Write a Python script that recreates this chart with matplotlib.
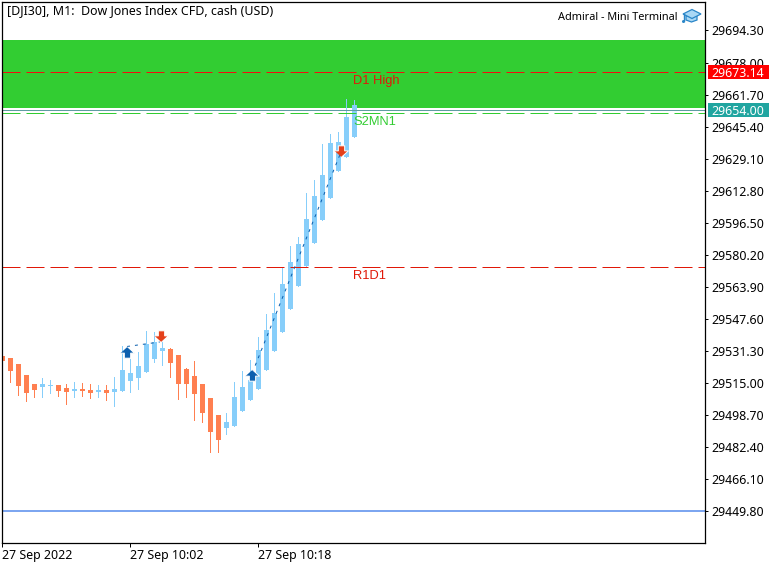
import matplotlib
matplotlib.use("Agg")
import matplotlib.pyplot as plt
from matplotlib.patches import Circle, Polygon, Rectangle

plt.rcParams['font.family'] = ['Noto Sans', 'DejaVu Sans']

# M1 candles, offsets (prices minus 29000)
opens = [528.65, 527.63, 524.58, 518.98, 514.40, 513.03, 513.54, 513.89, 512.37, 510.99,
         511.86, 511.35, 510.48, 511.35, 510.48, 510.99, 516.08, 517.61, 520.66, 527.28,
         531.20, 532.21, 529.16, 522.04, 518.47, 514.40, 507.28, 498.63, 492.16, 493.18,
         500.66, 506.26, 511.86, 521.53, 531.20, 540.87, 552.57, 564.27, 574.45, 586.16,
         597.86, 609.06, 622.80, 629.92, 640.10]
highs = [528.65, 527.63, 524.58, 518.98, 514.40, 517.46, 516.44, 513.89, 514.40, 515.42,
         514.91, 514.40, 513.89, 513.89, 517.97, 533.74, 527.12, 530.69, 541.37, 540.87,
         536.29, 532.72, 529.16, 522.55, 526.11, 514.40, 507.28, 498.63, 499.64, 515.42,
         521.02, 526.62, 538.32, 550.03, 560.71, 573.43, 584.63, 589.21, 611.60, 618.22,
         636.54, 641.63, 642.65, 659.44, 658.93]
lows = [526.26, 515.57, 508.96, 505.90, 507.94, 507.94, 509.97, 508.45, 504.38, 507.94,
        508.45, 507.43, 507.94, 506.41, 503.36, 510.99, 510.48, 512.01, 520.66, 525.75,
        524.22, 518.12, 506.92, 507.94, 496.23, 495.22, 479.95, 479.95, 489.11, 493.18,
        500.66, 506.26, 511.86, 521.53, 531.20, 540.87, 552.57, 564.27, 574.45, 586.16,
        597.86, 609.06, 622.80, 629.92, 640.10]
closes = [526.26, 521.17, 513.54, 509.97, 511.50, 514.40, 513.89, 510.99, 510.48, 511.86,
          510.99, 509.97, 511.35, 509.97, 511.86, 521.53, 520.00, 523.56, 534.76, 535.78,
          532.72, 525.24, 514.56, 514.56, 509.47, 499.80, 490.13, 486.06, 495.06, 507.79,
          512.88, 516.44, 531.70, 541.88, 550.53, 565.29, 576.49, 585.65, 598.37, 610.08,
          620.76, 637.05, 637.56, 650.28, 656.39]
BASE = 29000.0

y_ticks = [29694.30, 29678.00, 29661.70, 29645.40, 29629.10, 29612.80, 29596.50, 29580.20,
           29563.90, 29547.60, 29531.30, 29515.00, 29498.70, 29482.40, 29466.10, 29449.80]
x_ticks = [0, 16, 32]
x_labels = ["27 Sep 2022", "27 Sep 10:02", "27 Sep 10:18"]

zone_top, zone_bottom = 29689.46, 29654.86
bid = 29654.00
d1_high = 29673.14
s2mn1 = 29652.16
r1d1 = 29573.94
support = 29449.80

buy_x = [15.6, 31.25]
buy_y = [29530.69, 29518.73]
sell_x = [19.9, 42.4]
sell_y = [29538.98, 29632.98]
trade1_x, trade1_y = [15.6, 19.7], [29533.49, 29535.78]
trade2_x, trade2_y = [31.25, 42.3], [29520.00, 29631.96]

BLUE = "#87CEFA"
ORANGE = "#FF7F50"
GREEN = "#32CD32"
RED = "#F01010"
FS = 8.9

W, H = 782, 567
fig = plt.figure(figsize=(W / 100, H / 100), dpi=100, facecolor="white")
ax = fig.add_axes([2.2 / W, 1 - 543 / H, (705.2 - 2.2) / W, (543 - 2) / H])
ax.set_xlim(0.0, 87.875)
ax.set_ylim(29433.49, 29708.80)

# zone and levels
ax.axhspan(zone_bottom, zone_top, color=GREEN, lw=0, zorder=1)
ax.axhline(bid, color="#5F9EA0", lw=0.72, zorder=4)
dash = (0, (18, 6))
ax.axhline(d1_high, color=RED, lw=0.72, ls=dash, zorder=4)
ax.axhline(s2mn1, color=GREEN, lw=0.72, ls=dash, zorder=4)
ax.axhline(r1d1, color="#E01808", lw=0.72, ls=dash, zorder=4)
ax.axhline(support, color="#6495ED", lw=1.2, zorder=4)

# candles
for i in range(len(opens)):
    up = closes[i] >= opens[i]
    c = BLUE if up else ORANGE
    ax.vlines(i, BASE + lows[i], BASE + highs[i], color=c, lw=0.72, antialiased=False, zorder=2)
    bottom = BASE + min(opens[i], closes[i])
    ax.bar(i, abs(closes[i] - opens[i]), width=5 / 8, bottom=bottom, color=c, lw=0,
           antialiased=False, zorder=3)

# trades
ax.plot(trade1_x, trade1_y, color="#0B5FAE", lw=0.72, ls=(0, (3, 5)), zorder=5)
ax.plot(trade2_x, trade2_y, color="#0B5FAE", lw=0.72, ls=(0, (3, 5)), zorder=5)
up_arrow = [(0, 4.5), (5.5, -0.5), (2.5, -0.5), (2.5, -4.5), (-2.5, -4.5), (-2.5, -0.5), (-5.5, -0.5)]
down_arrow = [(x, -y) for x, y in up_arrow]
ax.plot(buy_x, buy_y, ls="none", marker=up_arrow, ms=10, mfc="#0B5FAE", mec="white", mew=0.7, zorder=6)
ax.plot(sell_x, sell_y, ls="none", marker=down_arrow, ms=10, mfc="#E4401A", mec="white", mew=0.7, zorder=6)

# axes look
for s in ax.spines.values():
    s.set_linewidth(0.9)
    s.set_color("black")
    s.set_zorder(7)
ax.yaxis.tick_right()
ax.set_yticks(y_ticks)
ax.set_yticklabels(["%.2f" % v for v in y_ticks], va="center_baseline")
ax.set_xticks(x_ticks)
ax.set_xticklabels(x_labels, ha="left")
ax.tick_params(axis="y", length=2.2, width=0.72, pad=2, labelsize=FS, colors="black")
ax.tick_params(axis="x", length=3, width=0.72, pad=1.3, labelsize=FS, colors="black")

# price tags
tags = ax.get_yaxis_transform()
for price, col in [(d1_high, "#FF0000"), (bid, "#20A5A0")]:
    ax.add_patch(Rectangle((1.0043, price - 3.6), 0.0868, 7.2, transform=tags, facecolor=col,
                           lw=0, clip_on=False, zorder=8))
    ax.text(1.0085, price, "%.2f" % price, transform=tags, color="white", fontsize=FS,
            va="center_baseline", ha="left", clip_on=False, zorder=9)

# level names
arial = ['Liberation Sans', 'DejaVu Sans']
ax.text(43.9, d1_high - 4.4, "D1 High", color="#E01808", fontsize=9.3, family=arial, va="center", zorder=6)
ax.text(43.9, s2mn1 - 4.3, "S2MN1", color=GREEN, fontsize=9.3, family=arial, va="center", zorder=6)
ax.text(43.9, r1d1 - 4.4, "R1D1", color="#E01808", fontsize=9.3, family=arial, va="center", zorder=6)

# header
fig.text(7 / W, 1 - 11 / H, "[DJI30], M1:  Dow Jones Index CFD, cash (USD)", fontsize=8.95,
         va="center", ha="left", zorder=10)
fig.text(677 / W, 1 - 17 / H, "Admiral - Mini Terminal", fontsize=7.85, va="center", ha="right", zorder=10)


# graduation cap icon, pixel coordinates
def px(points):
    return [(x / W, 1 - y / H) for x, y in points]


ICON = "#2A86C8"
bowl = Polygon(px([(686, 16), (697, 16), (697, 20), (691.5, 22), (686, 20)]), transform=fig.transFigure,
               facecolor="#A9D8F5", edgecolor=ICON, lw=0.9, zorder=10)
cap = Polygon(px([(683, 14), (692, 9.5), (701, 14), (692, 18.5)]), transform=fig.transFigure,
              facecolor="#A9D8F5", edgecolor=ICON, lw=0.9, zorder=11)
fig.add_artist(bowl)
fig.add_artist(cap)
fig.add_artist(plt.Line2D([683.5 / W, 683.5 / W], [1 - 14 / H, 1 - 21 / H], color=ICON, lw=1.0,
                          transform=fig.transFigure, zorder=11))
fig.add_artist(Circle((683.5, H - 21.5), 1.5, transform=None, facecolor=ICON, lw=0, zorder=11))

fig.savefig("out.png", dpi=100, facecolor="white")
